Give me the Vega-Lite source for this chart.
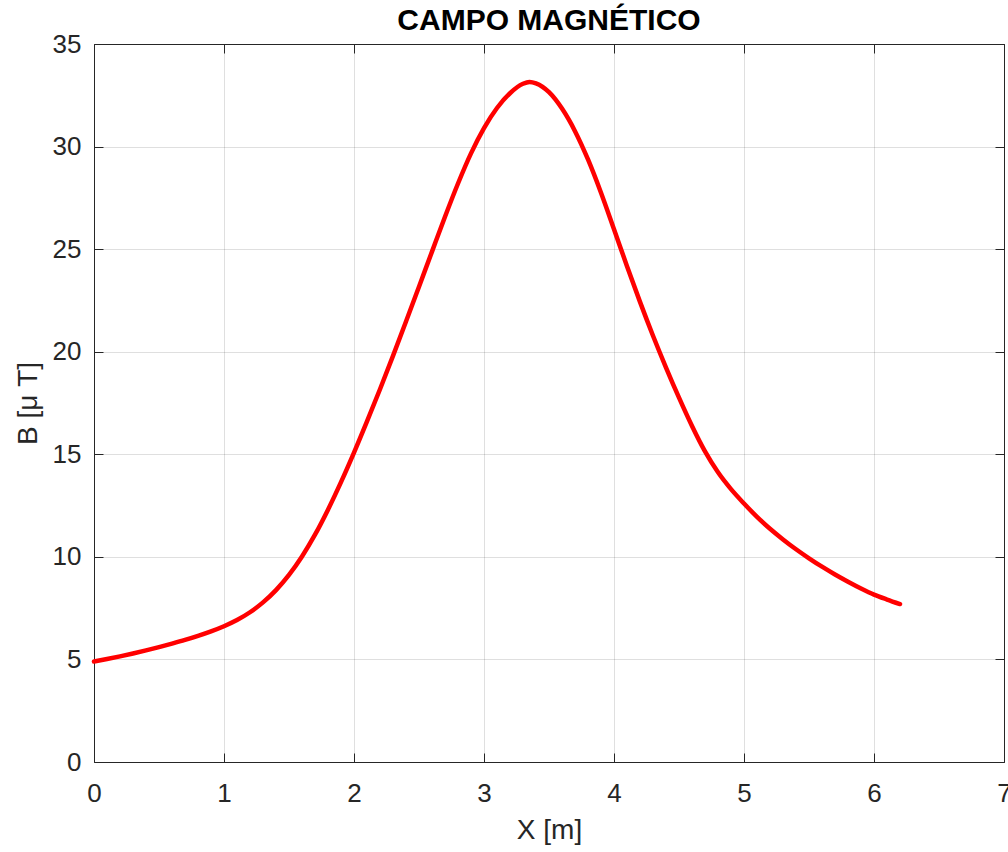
{
  "$schema": "https://vega.github.io/schema/vega-lite/v6.json",
  "width": 910,
  "height": 718,
  "autosize": {"type": "none"},
  "padding": {"left": 94, "top": 44, "right": 4, "bottom": 90},
  "background": "white",
  "config": {
    "font": "Liberation Sans",
    "view": {"stroke": "#262626", "strokeWidth": 1},
    "axis": {
      "labelFont": "Liberation Sans",
      "titleFont": "Liberation Sans",
      "labelColor": "#262626",
      "titleColor": "#262626",
      "domainColor": "#262626",
      "tickColor": "#262626",
      "gridColor": "#262626",
      "gridOpacity": 0.15,
      "gridWidth": 1,
      "labelFontSize": 26,
      "titleFontSize": 28,
      "titleFontWeight": "normal",
      "labelFlush": false
    }
  },
  "title": {
    "text": "CAMPO MAGNÉTICO",
    "font": "Liberation Sans",
    "fontSize": 30,
    "fontWeight": "bold",
    "color": "#000000",
    "anchor": "middle",
    "offset": -5
  },
  "data": {
    "values": [
      {"x": 0.0, "B": 4.90}, {"x": 0.1, "B": 5.02}, {"x": 0.2, "B": 5.15}, {"x": 0.3, "B": 5.29},
      {"x": 0.4, "B": 5.44}, {"x": 0.5, "B": 5.60}, {"x": 0.6, "B": 5.77}, {"x": 0.7, "B": 5.95},
      {"x": 0.8, "B": 6.15}, {"x": 0.9, "B": 6.37}, {"x": 1.0, "B": 6.62}, {"x": 1.1, "B": 6.92},
      {"x": 1.2, "B": 7.30}, {"x": 1.3, "B": 7.78}, {"x": 1.4, "B": 8.38}, {"x": 1.5, "B": 9.12},
      {"x": 1.6, "B": 10.02}, {"x": 1.7, "B": 11.08}, {"x": 1.8, "B": 12.30}, {"x": 1.9, "B": 13.64},
      {"x": 2.0, "B": 15.08}, {"x": 2.1, "B": 16.60}, {"x": 2.2, "B": 18.17}, {"x": 2.3, "B": 19.80},
      {"x": 2.4, "B": 21.47}, {"x": 2.5, "B": 23.17}, {"x": 2.6, "B": 24.88}, {"x": 2.7, "B": 26.58},
      {"x": 2.8, "B": 28.20}, {"x": 2.9, "B": 29.67}, {"x": 3.0, "B": 30.90}, {"x": 3.1, "B": 31.88},
      {"x": 3.2, "B": 32.60}, {"x": 3.3, "B": 33.06}, {"x": 3.35, "B": 33.15}, {"x": 3.4, "B": 33.08},
      {"x": 3.5, "B": 32.65}, {"x": 3.6, "B": 31.85}, {"x": 3.7, "B": 30.75}, {"x": 3.8, "B": 29.37},
      {"x": 3.9, "B": 27.75}, {"x": 4.0, "B": 25.97}, {"x": 4.1, "B": 24.17}, {"x": 4.2, "B": 22.43},
      {"x": 4.3, "B": 20.78}, {"x": 4.4, "B": 19.23}, {"x": 4.5, "B": 17.76}, {"x": 4.6, "B": 16.38},
      {"x": 4.7, "B": 15.14}, {"x": 4.8, "B": 14.12}, {"x": 4.9, "B": 13.30}, {"x": 5.0, "B": 12.60},
      {"x": 5.1, "B": 11.95}, {"x": 5.2, "B": 11.37}, {"x": 5.3, "B": 10.85}, {"x": 5.4, "B": 10.37},
      {"x": 5.5, "B": 9.93}, {"x": 5.6, "B": 9.52}, {"x": 5.7, "B": 9.14}, {"x": 5.8, "B": 8.79},
      {"x": 5.9, "B": 8.46}, {"x": 6.0, "B": 8.16}, {"x": 6.1, "B": 7.92}, {"x": 6.2, "B": 7.70}
    ]
  },
  "layer": [
    {
      "mark": {"type": "line", "opacity": 0},
      "encoding": {
        "x": {
          "field": "x", "type": "quantitative",
          "scale": {"domain": [0, 7], "nice": false, "zero": false},
          "axis": {"orient": "top", "values": [0,1,2,3,4,5,6,7], "labels": false, "title": null, "grid": false, "tickSize": -9, "domain": false}
        },
        "y": {
          "field": "B", "type": "quantitative",
          "scale": {"domain": [0, 35], "nice": false},
          "axis": {"orient": "right", "values": [0,5,10,15,20,25,30,35], "labels": false, "title": null, "grid": false, "tickSize": -9, "domain": false}
        }
      }
    },
    {
      "mark": {"type": "line", "color": "#ff0000", "strokeWidth": 4.5, "interpolate": "monotone", "strokeCap": "round", "strokeJoin": "round"},
      "encoding": {
        "x": {
          "field": "x", "type": "quantitative",
          "scale": {"domain": [0, 7], "nice": false, "zero": false},
          "axis": {"orient": "bottom", "values": [0,1,2,3,4,5,6,7], "title": "X [m]", "grid": true, "tickSize": -9, "labelPadding": 27, "titlePadding": 10, "domain": false}
        },
        "y": {
          "field": "B", "type": "quantitative",
          "scale": {"domain": [0, 35], "nice": false},
          "axis": {"orient": "left", "values": [0,5,10,15,20,25,30,35], "title": "B [μ T]", "grid": true, "tickSize": -9, "labelPadding": 22, "titlePadding": 10, "domain": false}
        }
      }
    }
  ],
  "resolve": {"axis": {"x": "independent", "y": "independent"}}
}
